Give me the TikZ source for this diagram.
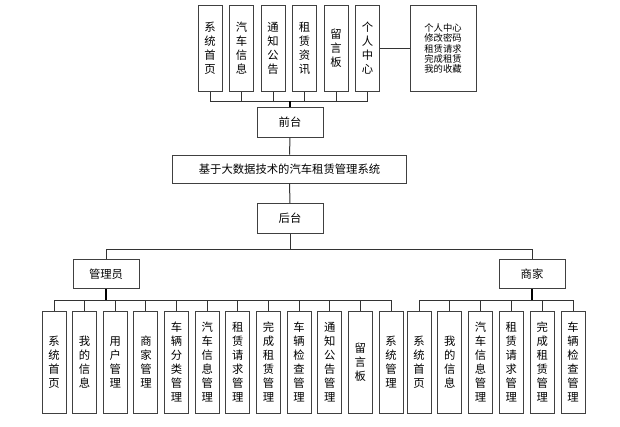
\documentclass[tikz,border=0pt]{standalone}
\usepackage{fontspec}
\setmainfont{Noto Sans CJK SC}
\usepackage{tikz}

\begin{document}
\begin{tikzpicture}[x=0.75pt,y=0.75pt,yscale=-1,xscale=1,
  box/.style={draw=black!75,line width=0.75pt,inner sep=0pt,align=center,
    font=\fontsize{8.5}{10.5}\selectfont},
  leaf/.style={box,minimum width=18pt,minimum height=76.5pt},
  topleaf/.style={box,minimum width=18pt,minimum height=65pt},
  wide/.style={box,minimum width=49.5pt,minimum height=22pt},
  link/.style={draw=black!80,line width=0.75pt},
  stem/.style={draw=black,line width=1.5pt}]
\useasboundingbox (0,0) rectangle (620,426);

% front end pages
\foreach \i/\t in {1/{系\\统\\首\\页},2/{汽\\车\\信\\息},3/{通\\知\\公\\告},
  4/{租\\赁\\资\\讯},5/{留\\言\\板},6/{个\\人\\中\\心}}
  \node [topleaf] (t\i) at (210+31.5*\i-31.5,48.5) {\t};
\node [box,minimum width=49.5pt,minimum height=65pt,
  font=\fontsize{7}{7.6}\selectfont] (info) at (443,48.5)
  {个人中心\\修改密码\\租赁请求\\完成租赁\\我的收藏};
\draw [link] (t6.east) -- (info.west);

% middle column
\node [wide] (qt) at (290,122.5) {前台};
\node [box,minimum width=175pt,minimum height=21pt] (sys) at (289.5,169)
  {基于大数据技术的汽车租赁管理系统};
\node [wide] (ht) at (290,218.5) {后台};
\draw [link] (qt.south) -- (sys.north);
\draw [link] (sys.south) -- (ht.north);
\foreach \i in {1,...,6}
  \draw [link] (qt.north) -- ++(0,-6) -| (t\i.south);
\draw [stem] (qt.north) -- ++(0,-6);

% roles
\node [wide] (admin) at (106,274) {管理员};
\node [wide] (shop) at (532,274) {商家};
\draw [link] (ht.south) -- ++(0,16) -| (admin.north);
\draw [link] (ht.south) -- ++(0,16) -| (shop.north);

% admin pages
\foreach \i/\t in {1/{系\\统\\首\\页},2/{我\\的\\信\\息},3/{用\\户\\管\\理},
  4/{商\\家\\管\\理},5/{车\\辆\\分\\类\\管\\理},6/{汽\\车\\信\\息\\管\\理},
  7/{租\\赁\\请\\求\\管\\理},8/{完\\成\\租\\赁\\管\\理},9/{车\\辆\\检\\查\\管\\理},
  10/{通\\知\\公\\告\\管\\理},11/{留\\言\\板},12/{系\\统\\管\\理}}
{
  \node [leaf] (a\i) at (54+30.64*\i-30.64,362) {\t};
  \draw [link] (admin.south) -- ++(0,11) -| (a\i.north);
}
\draw [stem] (admin.south) -- ++(0,11);

% shop pages
\foreach \i/\t in {1/{系\\统\\首\\页},2/{我\\的\\信\\息},3/{汽\\车\\信\\息\\管\\理},
  4/{租\\赁\\请\\求\\管\\理},5/{完\\成\\租\\赁\\管\\理},6/{车\\辆\\检\\查\\管\\理}}
{
  \node [leaf] (s\i) at (419+30.8*\i-30.8,362) {\t};
  \draw [link] (shop.south) -- ++(0,11) -| (s\i.north);
}
\draw [stem] (shop.south) -- ++(0,11);

\end{tikzpicture}
\end{document}
